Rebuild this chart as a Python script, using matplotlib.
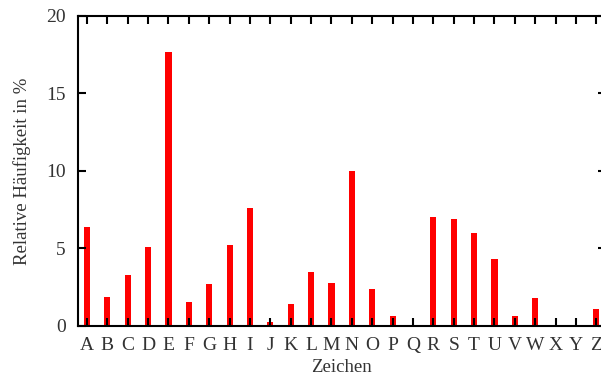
import numpy as np
import matplotlib
matplotlib.use("Agg")
import matplotlib.pyplot as plt

# letter frequencies (German text), in percent
letters = list("ABCDEFGHIJKLMNOPQRSTUVWXYZ")
freq = [6.4, 1.9, 3.3, 5.1, 17.7, 1.55, 2.7, 5.2, 7.6, 0.27,
        1.4, 3.5, 2.8, 10.0, 2.4, 0.65, 0.02, 7.0, 6.9, 6.0,
        4.3, 0.65, 1.8, 0.0, 0.0, 1.1]
yticks = [0, 5, 10, 15, 20]

plt.rcParams['font.family'] = ['Liberation Serif', 'DejaVu Serif']

fig = plt.figure(figsize=(6.01, 3.77), dpi=100)
ax = fig.add_axes([0.1298, 0.1353, 0.878, 0.8223])

x = np.arange(len(letters))
ax.bar(x, freq, width=0.3, color='#ff0000', zorder=1)

ax.set_xlim(-0.44, 25.46)
ax.set_ylim(0, 20)
ax.set_xticks(x)
ax.set_xticklabels(letters)
ax.set_yticks(yticks)

ax.tick_params(direction='in', length=6, width=1.5, top=True, right=True,
               labelsize=14, colors='black', labelcolor='#333333')
ax.tick_params(axis='x', pad=8)
ax.tick_params(axis='y', pad=9)
for s in ax.spines.values():
    s.set_linewidth(1.5)
    s.set_zorder(3)

ax.set_xlabel('Zeichen', fontsize=13.5, color='#333333', labelpad=3.5)
ax.set_ylabel('Relative Häufigkeit in %', fontsize=13.5, color='#333333', labelpad=11)

fig.savefig('out.png', dpi=100)
